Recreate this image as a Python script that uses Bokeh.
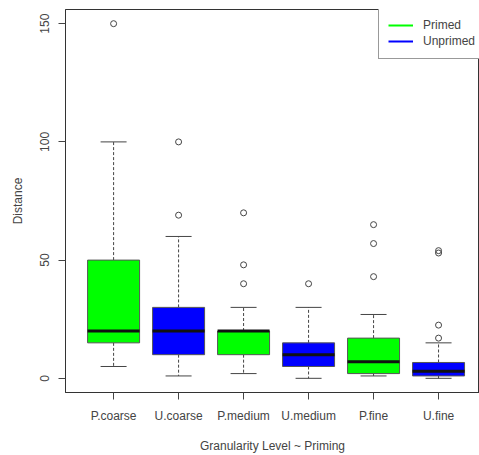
from bokeh.plotting import figure
from bokeh.models import Range1d, FixedTicker, Legend, LegendItem, ColumnDataSource
from bokeh.embed import file_html
from bokeh.resources import INLINE

groups = ["P.coarse", "U.coarse", "P.medium", "U.medium", "P.fine", "U.fine"]
q1 = [15, 10, 10, 5, 2, 1]
med = [20, 20, 20, 10, 7, 3]
q3 = [50, 30, 20, 15, 17, 6.7]
low = [5, 1, 2, 0, 1, 0]
high = [100, 60, 30, 30, 27, 15]
outliers = {
    "P.coarse": [150],
    "U.coarse": [69, 100],
    "P.medium": [40, 48, 70],
    "U.medium": [40],
    "P.fine": [43, 57, 65],
    "U.fine": [17, 22.5, 53, 54],
}
colors = ["#00FF00", "#0000FF", "#00FF00", "#0000FF", "#00FF00", "#0000FF"]
legend_labels = ["Primed", "Unprimed"]
legend_colors = ["#00FF00", "#0000FF"]
yticks = [0, 50, 100, 150]

FONT = "Liberation Sans"
TXT = "#444444"
LINE = "#444444"

xs = list(range(1, len(groups) + 1))
bw = 0.8
cap = 0.4

p = figure(width=479, height=455, output_backend="svg", toolbar_location=None,
           x_range=Range1d(0.26, 6.63), y_range=Range1d(-6, 156),
           min_border_left=65, min_border_right=0, min_border_top=9, min_border_bottom=63)
p.outline_line_color = "#333333"
p.outline_line_width = 1
p.grid.grid_line_color = None
p.background_fill_color = "white"
p.border_fill_color = "white"

src = ColumnDataSource(dict(
    x=xs, q1=q1, med=med, q3=q3, low=low, high=high, color=colors,
    x0=[x - bw / 2 for x in xs], x1=[x + bw / 2 for x in xs],
    c0=[x - cap / 2 for x in xs], c1=[x + cap / 2 for x in xs],
))

# whiskers
p.segment(x0="x", y0="q3", x1="x", y1="high", source=src, line_color=LINE, line_dash="3 2", line_width=1)
p.segment(x0="x", y0="q1", x1="x", y1="low", source=src, line_color=LINE, line_dash="3 2", line_width=1)
p.segment(x0="c0", y0="high", x1="c1", y1="high", source=src, line_color=LINE, line_width=1)
p.segment(x0="c0", y0="low", x1="c1", y1="low", source=src, line_color=LINE, line_width=1)
# boxes
p.vbar(x="x", width=bw, bottom="q1", top="q3", source=src, fill_color="color", line_color="#555555", line_width=1)
# medians
p.segment(x0="x0", y0="med", x1="x1", y1="med", source=src, line_color="#111111", line_width=3, line_cap="butt")

# outliers
ox, oy = [], []
for i, g in enumerate(groups):
    for v in outliers[g]:
        ox.append(xs[i]); oy.append(v)
p.scatter(ox, oy, marker="circle", size=6, fill_color=None, line_color=LINE, line_width=1)

# axes
xa = p.xaxis[0]
xa.ticker = FixedTicker(ticks=xs)
xa.major_label_overrides = {x: g for x, g in zip(xs, groups)}
xa.axis_label = "Granularity Level ~ Priming"
ya = p.yaxis[0]
ya.ticker = FixedTicker(ticks=yticks)
ya.axis_label = "Distance"
ya.major_label_orientation = "vertical"

for ax in (xa, ya):
    ax.axis_line_color = "#333333"
    ax.major_tick_line_color = LINE
    ax.major_tick_out = 7
    ax.major_tick_in = 0
    ax.minor_tick_line_color = None
    ax.major_label_text_font = FONT
    ax.major_label_text_font_size = "12px"
    ax.major_label_text_color = TXT
    ax.axis_label_text_font = FONT
    ax.axis_label_text_font_size = "12px"
    ax.axis_label_text_font_style = "normal"
    ax.axis_label_text_color = TXT
xa.major_label_standoff = 9
xa.axis_label_standoff = 13
ya.major_label_standoff = 9
ya.axis_label_standoff = 13

# legend
items = []
for lab, col in zip(legend_labels, legend_colors):
    r = p.line(x=[1], y=[float("nan")], line_color=col, line_width=2)
    items.append(LegendItem(label=lab, renderers=[r]))
leg = Legend(items=items, location=(313, 333), padding=9, spacing=0, margin=0,
             glyph_width=25, glyph_height=16, label_height=16, label_standoff=10,
             label_text_font=FONT, label_text_font_size="12px", label_text_color=TXT,
             border_line_color="#333333", border_line_width=1,
             background_fill_color="white", background_fill_alpha=1.0)
p.add_layout(leg, "center")

open("out.html", "w").write(file_html(p, INLINE))
